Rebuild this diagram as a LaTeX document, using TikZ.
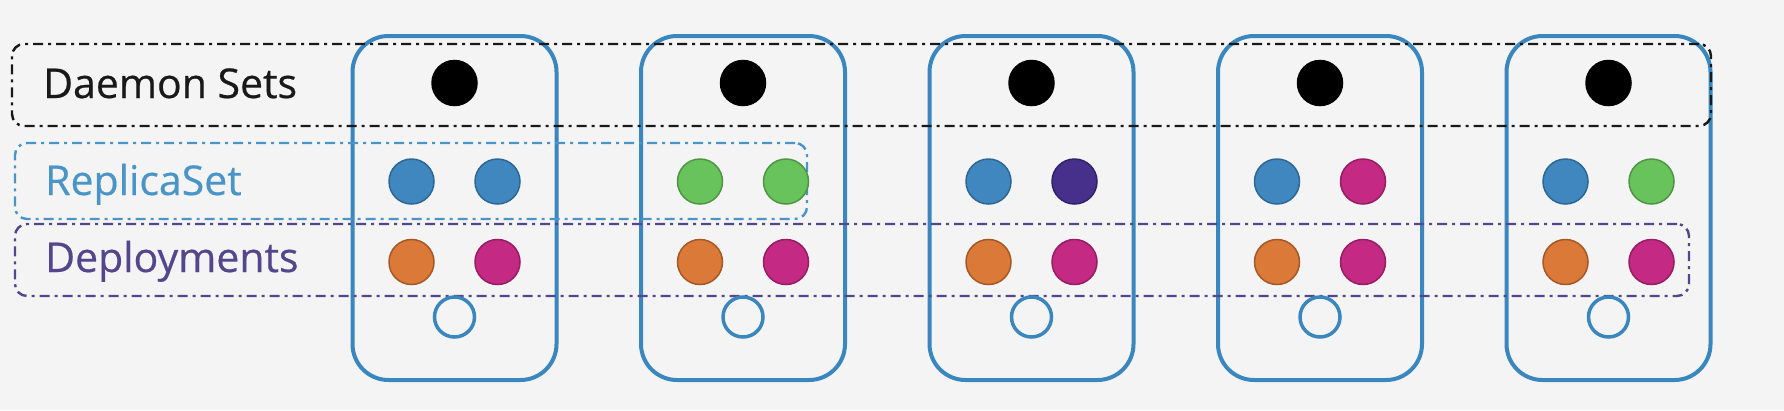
\documentclass[tikz,border=0pt]{standalone}
\usepackage{fontspec}
\setmainfont{Open Sans}
\newfontfamily\labelfont[FakeBold=0.5]{Open Sans}
\definecolor{bg}{RGB}{244,244,244}
\definecolor{nodeblue}{RGB}{58,135,192}
\definecolor{podblue}{RGB}{64,135,192}
\definecolor{podblueD}{RGB}{45,103,150}
\definecolor{podgreen}{RGB}{104,195,92}
\definecolor{podgreenD}{RGB}{78,150,68}
\definecolor{podpurple}{RGB}{70,48,140}
\definecolor{podpurpleD}{RGB}{50,34,105}
\definecolor{podorange}{RGB}{219,122,56}
\definecolor{podorangeD}{RGB}{165,88,38}
\definecolor{podmag}{RGB}{196,42,132}
\definecolor{podmagD}{RGB}{150,28,100}
\definecolor{rsblue}{RGB}{74,149,200}
\definecolor{depurple}{RGB}{84,70,140}
\definecolor{dsblack}{RGB}{25,25,25}
\begin{document}
\begin{tikzpicture}[x=1pt,y=-1pt,
  workerbox/.style={draw=nodeblue,line width=4pt,rounded corners=36pt,minimum width=204pt,minimum height=344pt,inner sep=0pt},
  groupbox/.style={line width=2.4pt,rounded corners=12pt,inner sep=0pt,dash pattern=on 10pt off 5pt on 3pt off 5pt},
  pod/.style={circle,inner sep=0pt,minimum size=45pt,line width=1.5pt},
  bluepod/.style={pod,fill=podblue,draw=podblueD},
  greenpod/.style={pod,fill=podgreen,draw=podgreenD},
  purplepod/.style={pod,fill=podpurple,draw=podpurpleD},
  orangepod/.style={pod,fill=podorange,draw=podorangeD},
  magpod/.style={pod,fill=podmag,draw=podmagD},
  blackpod/.style={pod,fill=black,draw=black},
  emptypod/.style={circle,inner sep=0pt,minimum size=40pt,line width=3.5pt,draw=nodeblue},
  grouplabel/.style={anchor=base west,font=\labelfont\fontsize{41}{47}\selectfont,inner sep=0pt}
]
\path[fill=bg] (0,0) rectangle (1784,410);
\useasboundingbox (0,0) rectangle (1784,410);

% worker nodes
\foreach \i in {0,...,4}{
  \node[workerbox] (w\i) at ({454.5+288.5*\i},208) {};
}

% group boxes
\node[groupbox,draw=dsblack,minimum width=1699pt,minimum height=82pt] (ds) at (861.5,85) {};
\node[groupbox,draw=rsblue,minimum width=792pt,minimum height=76pt] (rs) at (411,181) {};
\node[groupbox,draw=depurple,minimum width=1674pt,minimum height=72pt] (dep) at (852,260) {};

% labels
\node[grouplabel,text=dsblack] (dsl) at (43,98) {Daemon Sets};
\node[grouplabel,text=rsblue] (rsl) at (45,195) {ReplicaSet};
\node[grouplabel,text=depurple] (depl) at (45,272) {Deployments};

% pods
\foreach \i/\sa/\sb in {0/bluepod/bluepod,1/greenpod/greenpod,2/bluepod/purplepod,3/bluepod/magpod,4/bluepod/greenpod}{
  \node[blackpod] (d\i) at ({454.5+288.5*\i},83) {};
  \node[\sa] (ra\i) at ({454.5+288.5*\i-43},181.5) {};
  \node[\sb] (rb\i) at ({454.5+288.5*\i+43},181.5) {};
  \node[orangepod] (pa\i) at ({454.5+288.5*\i-43},262) {};
  \node[magpod] (pb\i) at ({454.5+288.5*\i+43},262) {};
  \node[emptypod] (e\i) at ({454.5+288.5*\i},317) {};
}
\end{tikzpicture}
\end{document}
